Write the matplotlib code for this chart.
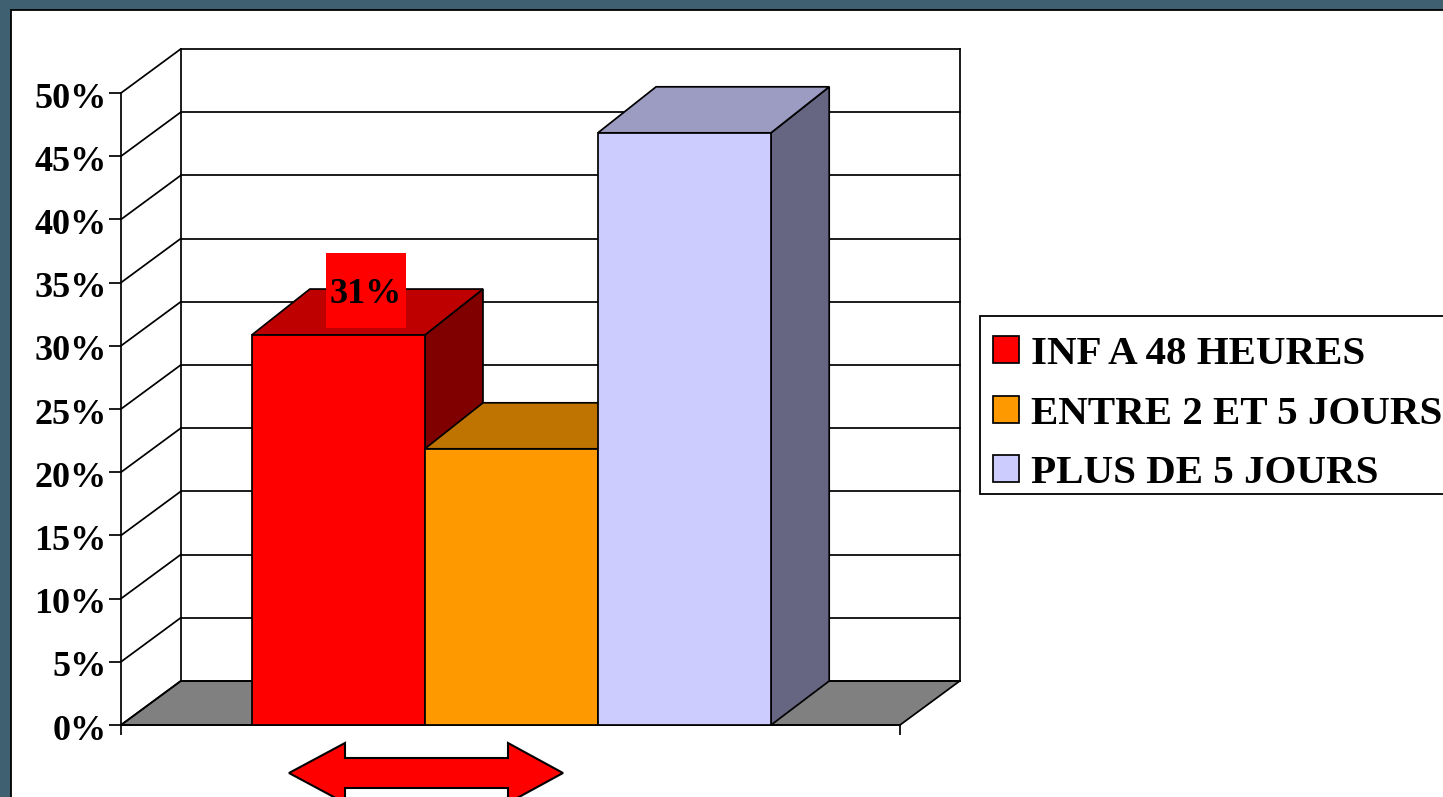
##histogramme 3D: duree de sejour
import matplotlib
matplotlib.use('Agg')
import matplotlib.pyplot as plt
from matplotlib.patches import Polygon, Rectangle, Patch
from matplotlib.transforms import Affine2D, ScaledTranslation

categories = ['INF A 48 HEURES', 'ENTRE 2 ET 5 JOURS', 'PLUS DE 5 JOURS']
values = [30.85, 21.85, 46.85]
ticks = [0, 5, 10, 15, 20, 25, 30, 35, 40, 45, 50]
tick_labels = ['0%', '5%', '10%', '15%', '20%', '25%', '30%', '35%', '40%', '45%', '50%']
front_colors = ['#ff0000', '#ff9900', '#ccccff']
top_colors = ['#bf0000', '#bf7300', '#9c9cc2']
side_colors = ['#800000', '#804d00', '#666682']
value_label = '31%'

W, H = 1443, 797
plt.rcParams['font.family'] = ['Liberation Serif', 'DejaVu Serif']
plt.rcParams['font.weight'] = 'bold'

fig = plt.figure(figsize=(W / 100, H / 100), dpi=100, facecolor='#3e6070')
# pixel coordinates of the slide, y going down
px = Affine2D().scale(1 / W, -1 / H).translate(0, 1) + fig.transFigure

fig.add_artist(Rectangle((11, 10), W, H, transform=px, fc='white', ec='black', lw=1.3, zorder=-5))

ax = fig.add_axes([121 / W, (H - 725) / H, 779 / W, 632 / H], facecolor='none')
ax.set_xlim(0, 4.5)
ax.set_ylim(0, 50)
dx = 0.345  # profondeur 3D
dy = 3.48
bar_dx = 0.336
bar_dy = 3.64
gap = 0.755
width = 1.0
lw = 1.25
line = dict(color='black', lw=lw, clip_on=False)

# sol et parois
floor = [(0, 0), (dx, dy), (4.5 + dx, dy), (4.5, 0)]
ax.add_patch(Polygon(floor, fc='#808080', ec='black', lw=lw, clip_on=False, zorder=1))
for t in ticks:
    ax.plot([0, dx], [t, t + dy], zorder=1.5, **line)
    ax.plot([dx, 4.5 + dx], [t + dy, t + dy], zorder=1.5, **line)
ax.plot([dx, dx], [dy, 50 + dy], zorder=1.5, **line)
ax.plot([4.5 + dx, 4.5 + dx], [dy, 50 + dy], zorder=1.5, **line)

# barres
for i, v in enumerate(values):
    x0 = gap + i * width
    x1 = x0 + width
    z = 3 + i
    ax.add_patch(Polygon([(x1, 0), (x1 + bar_dx, dy), (x1 + bar_dx, v + bar_dy), (x1, v)],
                         fc=side_colors[i], ec='black', lw=lw, clip_on=False, zorder=z))
    ax.add_patch(Polygon([(x0, v), (x0 + bar_dx, v + bar_dy), (x1 + bar_dx, v + bar_dy), (x1, v)],
                         fc=top_colors[i], ec='black', lw=lw, clip_on=False, zorder=z))
    ax.add_patch(Rectangle((x0, 0), width, v, fc=front_colors[i], ec='black', lw=lw,
                           clip_on=False, zorder=z))

ax.set_yticks(ticks)
ax.set_yticklabels(tick_labels, fontsize=26, fontweight='bold')
ax.set_xticks([0, 4.5])
ax.set_xticklabels(['', ''])
ax.tick_params(axis='y', length=8.6, width=lw, pad=1.7)
ax.tick_params(axis='x', length=7, width=lw)
# labels a little lower than the ticks
nudge = ScaledTranslation(0, -2 / 100, fig.dpi_scale_trans)
for lab in ax.get_yticklabels():
    lab.set_transform(lab.get_transform() + nudge)
for s in ['top', 'right']:
    ax.spines[s].set_visible(False)
for s in ['left', 'bottom']:
    ax.spines[s].set_linewidth(lw)
    ax.spines[s].set_zorder(2)

# etiquette de valeur
fig.add_artist(Rectangle((326, 253), 80, 75, transform=px, fc='#ff0000', ec='none', zorder=10))
fig.text(366, 295, value_label, transform=px, ha='center', va='center', fontsize=26,
         fontweight='bold', color='black', zorder=11)

# fleche double
arrow = [(289, 773), (345, 743), (345, 758), (508, 758), (508, 743), (563, 773),
         (508, 803), (508, 788), (345, 788), (345, 803)]
fig.add_artist(Polygon(arrow, transform=px, fc='#ff0000', ec='black', lw=1.5, zorder=10))

# cadre de legende, sort de l'image a droite
ax.add_patch(Rectangle((980, 316), 500, 178, transform=px, fc='white', ec='black', lw=1.3,
                       clip_on=False, zorder=19))
handles = [Patch(fc=c, ec='black', lw=lw) for c in front_colors]
leg = ax.legend(handles, categories, loc='upper left', bbox_to_anchor=(993, 336),
                bbox_transform=px, borderaxespad=0, fontsize=29.5, frameon=False,
                handlelength=0.63, handleheight=0.63, handletextpad=0.29,
                labelspacing=0.55, borderpad=0)
leg.set_zorder(20)

fig.savefig('out.png', dpi=100, facecolor=fig.get_facecolor())
